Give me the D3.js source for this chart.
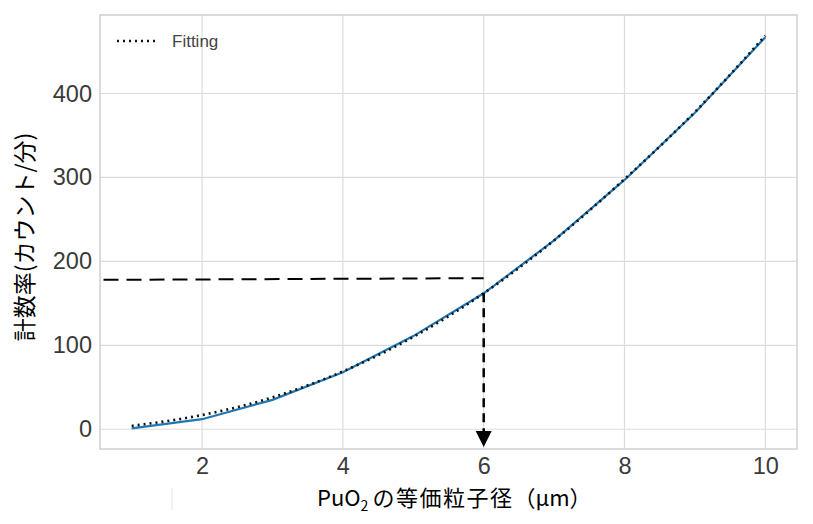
<!DOCTYPE html>
<html lang="ja">
<head>
<meta charset="UTF-8">
<title>計数率と等価粒子径</title>
<script src="https://d3js.org/d3.v7.min.js"></script>
<style>
  body { margin: 0; background: #fff; }
  .grid line { stroke: #dcdcdc; stroke-width: 1.2; }
  .tick text { font-family: "Liberation Sans", Arial, sans-serif; font-size: 23.5px; fill: #3a3a3a; }
  .lab { font-family: "Noto Sans CJK JP", sans-serif; font-size: 22px; fill: #000; }
</style>
</head>
<body>
<script>
// data
var diameter = [1, 2, 3, 4, 5, 6, 7, 8, 9, 10];
var countRate = [1, 12, 35, 68, 111, 162, 225, 297, 377, 467];
var fitRate = [4, 17, 38, 69, 110, 162, 225, 298, 378, 469];
var xTicks = [2, 4, 6, 8, 10];
var yTicks = [0, 100, 200, 300, 400];
var readCount = 178;   // 読み取り値
var readDiameter = 6;

var W = 813, H = 524;
var m = {left: 100, right: 16, top: 15, bottom: 75};

var svg = d3.select("body").append("svg").attr("width", W).attr("height", H);

var x = d3.scaleLinear().domain([0.55, 10.45]).range([m.left, W - m.right]);
var y = d3.scaleLinear().domain([-23.5, 493.5]).range([H - m.bottom, m.top]);

// grid
var g = svg.append("g").attr("class", "grid");
g.selectAll(".vx").data(xTicks).enter().append("line")
  .attr("x1", d => x(d)).attr("x2", d => x(d))
  .attr("y1", m.top).attr("y2", H - m.bottom);
g.selectAll(".hy").data(yTicks).enter().append("line")
  .attr("y1", d => y(d)).attr("y2", d => y(d))
  .attr("x1", m.left).attr("x2", W - m.right);

svg.append("rect")
  .attr("x", m.left).attr("y", m.top)
  .attr("width", W - m.left - m.right).attr("height", H - m.top - m.bottom)
  .attr("fill", "none").attr("stroke", "#d0d0d0").attr("stroke-width", 1.5);

// axes
svg.append("g").attr("transform", "translate(0," + (H - m.bottom) + ")")
  .call(d3.axisBottom(x).tickValues(xTicks).tickSize(0).tickPadding(8).tickFormat(d3.format("d")));
svg.append("g").attr("transform", "translate(" + m.left + ",0)")
  .call(d3.axisLeft(y).tickValues(yTicks).tickSize(0).tickPadding(8));
svg.selectAll(".domain").remove();

var pts = diameter.map((d, i) => ({x: d, y: countRate[i], f: fitRate[i]}));

svg.append("path").datum(pts)
  .attr("fill", "none").attr("stroke", "#1f77b4").attr("stroke-width", 2.2)
  .attr("d", d3.line().x(d => x(d.x)).y(d => y(d.y)));

svg.append("path").datum(pts)
  .attr("fill", "none").attr("stroke", "#111").attr("stroke-width", 2.6)
  .attr("stroke-dasharray", "2,4")
  .attr("d", d3.line().x(d => x(d.x)).y(d => y(d.f)).curve(d3.curveMonotoneX));

// 読み取り線
svg.append("line")
  .attr("x1", x(0.6)).attr("x2", x(readDiameter))
  .attr("y1", y(readCount)).attr("y2", y(readCount + 2))
  .attr("stroke", "#000").attr("stroke-width", 2).attr("stroke-dasharray", "15,8");
svg.append("line")
  .attr("x1", x(readDiameter)).attr("x2", x(readDiameter))
  .attr("y1", y(fitRate[5])).attr("y2", H - m.bottom - 16)
  .attr("stroke", "#000").attr("stroke-width", 2.5).attr("stroke-dasharray", "9,6");
var ax = x(readDiameter), ay = H - m.bottom - 2;
svg.append("path")
  .attr("d", "M" + (ax - 8) + "," + (ay - 16) + "L" + (ax + 8) + "," + (ay - 16) + "L" + ax + "," + ay + "Z")
  .attr("fill", "#000");

// legend
svg.append("line").attr("x1", 117).attr("x2", 155).attr("y1", 41).attr("y2", 41)
  .attr("stroke", "#111").attr("stroke-width", 2.6).attr("stroke-dasharray", "2,4");
svg.append("text").attr("x", 172).attr("y", 47)
  .style("font-family", "Liberation Sans, Arial, sans-serif").style("font-size", "17px").attr("fill", "#444")
  .text("Fitting");

// labels
var xl = svg.append("text").attr("class", "lab").attr("x", 317).attr("y", 506);
xl.append("tspan").text("PuO");
xl.append("tspan").attr("dy", 5).style("font-size", "14px").text("2");
xl.append("tspan").attr("dy", -5).attr("dx", 4).style("letter-spacing", "1.5px").text("の等価粒子径");
xl.append("tspan").text("（μm）");

svg.append("text").attr("class", "lab")
  .style("font-size", "23px")
  .attr("transform", "translate(33,237) rotate(-90)")
  .attr("text-anchor", "middle")
  .text("計数率(カウント/分)");

svg.append("line").attr("x1", 172).attr("x2", 172).attr("y1", 488).attr("y2", 510)
  .attr("stroke", "#e4e4e4").attr("stroke-width", 1);
</script>
</body>
</html>
